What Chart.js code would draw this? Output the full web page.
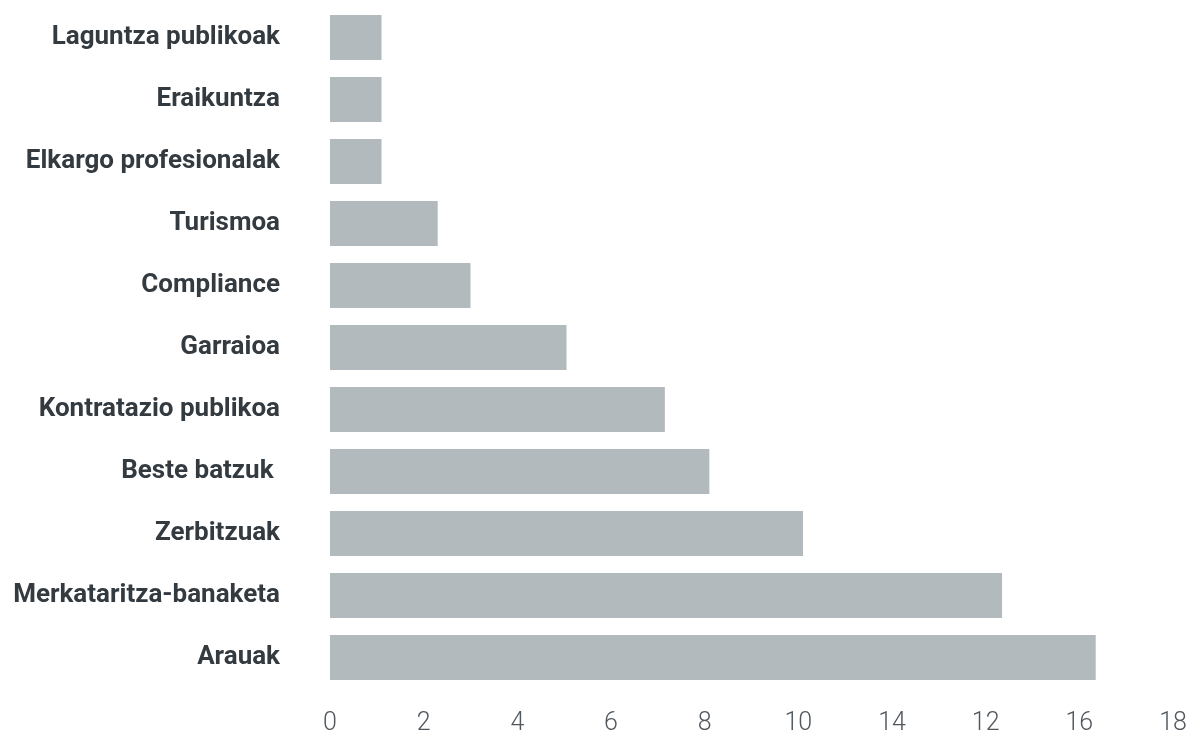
<!DOCTYPE html>
<html>
<head>
<meta charset="utf-8">
<script src="https://cdn.jsdelivr.net/npm/chart.js@4"></script>
<style>
  html, body { margin: 0; padding: 0; background: #ffffff; }
  #wrap { width: 1190px; height: 734px; position: relative; }
</style>
</head>
<body>
<div id="wrap"><canvas id="c"></canvas></div>
<script>
const categories = [
  "Laguntza publikoak",
  "Eraikuntza",
  "Elkargo profesionalak",
  "Turismoa",
  "Compliance",
  "Garraioa",
  "Kontratazio publikoa",
  "Beste batzuk ",
  "Zerbitzuak",
  "Merkataritza-banaketa",
  "Arauak"
];
const values = [1.1, 1.1, 1.1, 2.3, 3.0, 5.05, 7.15, 8.1, 10.1, 14.35, 16.35];
const xTickLabels = ["0", "2", "4", "6", "8", "10", "14", "12", "16", "18"];

new Chart(document.getElementById('c'), {
  type: 'bar',
  data: {
    labels: categories,
    datasets: [{
      data: values,
      backgroundColor: '#b3babd',
      borderWidth: 0,
      barPercentage: 0.726,
      categoryPercentage: 1.0
    }]
  },
  options: {
    indexAxis: 'y',
    responsive: true,
    maintainAspectRatio: false,
    animation: false,
    layout: { padding: { left: 0, right: 17, top: 6.5, bottom: 0 } },
    plugins: { legend: { display: false }, tooltip: { enabled: false } },
    scales: {
      x: {
        min: 0, max: 18,
        ticks: {
          stepSize: 2,
          color: '#50575d',
          padding: 0,
          font: { family: 'Roboto', size: 25, weight: '300', lineHeight: 1.0 },
          callback: (v, i) => xTickLabels[i]
        },
        grid: { display: false, drawTicks: true, tickLength: 23, tickColor: 'rgba(0,0,0,0)' },
        border: { display: false },
        afterFit: (s) => { s.height = 45.5; }
      },
      y: {
        ticks: {
          color: '#333a40',
          padding: 0,
          font: { family: 'Roboto', size: 26, weight: 'bold', lineHeight: 0.5 }
        },
        grid: { display: false, drawTicks: true, tickLength: 50, tickColor: 'rgba(0,0,0,0)' },
        border: { display: false },
        afterFit: (s) => { s.width = 330; }
      }
    }
  }
});
</script>
</body>
</html>
